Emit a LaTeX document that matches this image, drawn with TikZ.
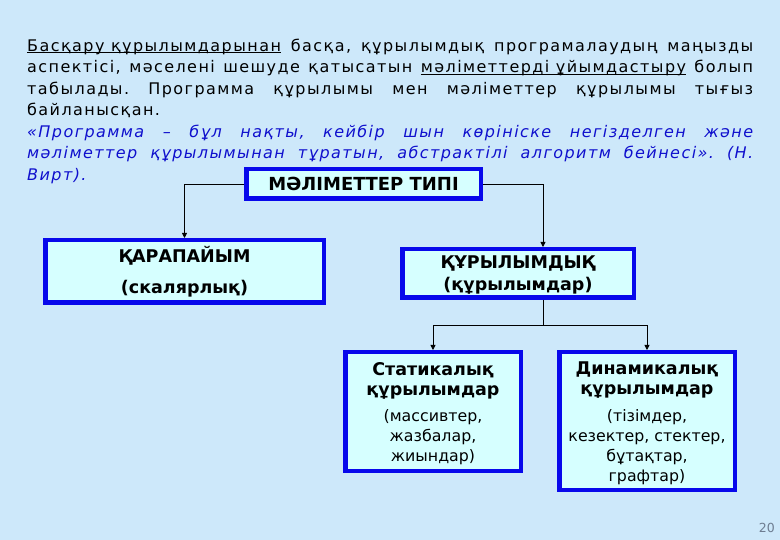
\documentclass[tikz,border=0pt]{standalone}
\usepackage{fontspec}
\usetikzlibrary{arrows.meta}
\setmainfont{DejaVu Sans}
\newfontfamily\bodyfont{DejaVu Sans}[LetterSpace=9]
\newcommand\myul[1]{\underline{\smash{#1}}}
\newcommand\bigb{\fontsize{17.5}{20}\selectfont\bfseries}
\newcommand\smallr{\fontsize{15.8}{18.8}\selectfont\mdseries}
\definecolor{bg}{RGB}{205,232,250}
\definecolor{boxfill}{RGB}{214,255,255}
\definecolor{boxline}{RGB}{8,8,235}
\definecolor{quote}{RGB}{15,15,205}
\definecolor{pagenum}{RGB}{110,125,145}
\tikzset{
  box/.style={draw=boxline, fill=boxfill, line width=4.5pt, align=center, inner sep=0pt},
  conn/.style={draw=black, line width=0.8pt},
  tipconn/.style={conn, -{Triangle[length=5pt,width=5pt]}}
}
\begin{document}
\begin{tikzpicture}[x=1pt,y=-1pt]
\fill[bg] (0,0) rectangle (780,540);
\useasboundingbox (0,0) rectangle (780,540);

\node[anchor=north west, inner sep=0pt, text width=726pt, align=justify,
      font=\bodyfont\fontsize{16}{21.5}\selectfont\frenchspacing] (para) at (27,38.5)
{\myul{Басқару құрылымдарынан} басқа, құрылымдық програмалаудың маңызды\linebreak
аспектісі, мәселені шешуде қатысатын \myul{мәліметтерді ұйымдастыру} болып\linebreak
табылады. Программа құрылымы мен мәліметтер құрылымы тығыз\linebreak
байланысқан.\par
\color{quote}\itshape «Программа – бұл нақты, кейбір шын көрініске негізделген және\linebreak
мәліметтер құрылымынан тұратын, абстрактілі алгоритм бейнесі». (Н.\linebreak
Вирт).};

\node[box, minimum width=234.5pt, minimum height=29.5pt,
      font=\fontsize{18}{20}\selectfont\bfseries] (title) at (363.5,184) {МӘЛІМЕТТЕР ТИПІ};

\node[box, minimum width=278.5pt, minimum height=62.5pt, font=\bigb] (qar) at (184.5,271.5)
  {\rule{0pt}{16pt}ҚАРАПАЙЫМ\\[11pt](скалярлық)};

\node[box, minimum width=231.5pt, minimum height=48.5pt,
      font=\fontsize{17.5}{22}\selectfont\bfseries] (str) at (518,273.5)
  {\rule{0pt}{16pt}ҚҰРЫЛЫМДЫҚ\\(құрылымдар)};

\node[box, minimum width=175.5pt, minimum height=118.5pt, font=\bigb] (stat) at (433,411.5)
  {\rule{0pt}{17pt}Статикалық\\құрылымдар\\[6.5pt]\smallr (массивтер,\\\smallr жазбалар,\\\smallr жиындар)};

\node[box, minimum width=175.5pt, minimum height=137.5pt, font=\bigb] (dyn) at (647,421)
  {\rule{0pt}{17pt}Динамикалық\\құрылымдар\\[6.5pt]\smallr (тізімдер,\\\smallr кезектер, стектер,\\\smallr бұтақтар,\\\smallr графтар)};

\coordinate (xr) at (543,0);
\coordinate (jn) at (543,325);

\draw[tipconn] (title.west) -| (qar.north);
\draw[tipconn] (title.east) -| (str.north -| xr);
\draw[conn] (str.south -| xr) -- (jn);
\draw[tipconn] (jn) -| (stat.north);
\draw[tipconn] (jn) -| (dyn.north);

\node[anchor=east, inner sep=0pt, text=pagenum, font=\fontsize{12.5}{14}\selectfont] (pg) at (775,528) {20};
\end{tikzpicture}
\end{document}
